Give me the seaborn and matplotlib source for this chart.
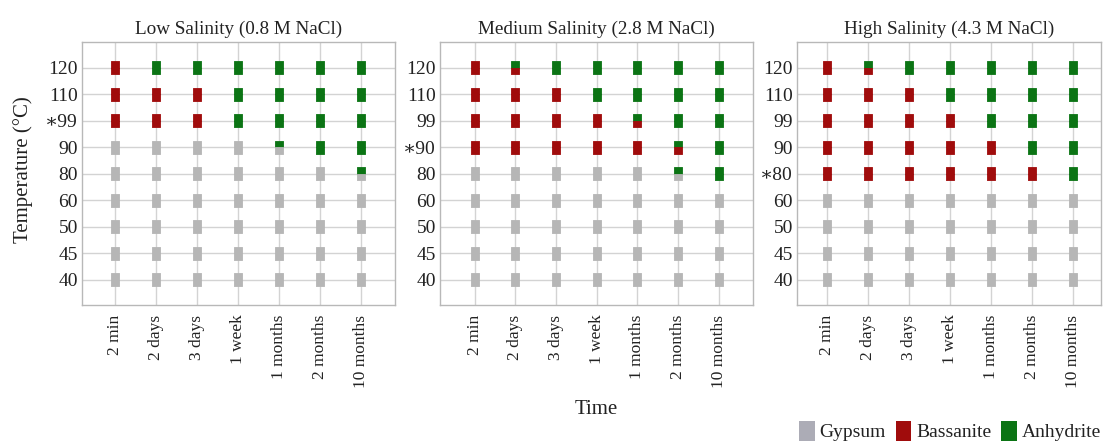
import matplotlib
matplotlib.use("Agg")
import matplotlib.pyplot as plt
import numpy as np
import pandas as pd
import seaborn as sns
from matplotlib.patches import Patch

# ---------------- data ----------------
times = ["2 min", "2 days", "3 days", "1 week", "1 months", "2 months", "10 months"]
temps = ["120", "110", "99", "90", "80", "60", "50", "45", "40"]
titles = ["Low Salinity (0.8 M NaCl)", "Medium Salinity (2.8 M NaCl)", "High Salinity (4.3 M NaCl)"]
starred = ["99", "90", "80"]
phase_names = {"G": "Gypsum", "B": "Bassanite", "A": "Anhydrite"}

# codes per temperature row (120 ... 40) and time column; two letters = top/bottom halves
low_salinity = [
    ["B", "A", "A", "A", "A", "A", "A"],
    ["B", "B", "B", "A", "A", "A", "A"],
    ["B", "B", "B", "A", "A", "A", "A"],
    ["G", "G", "G", "G", "AG", "A", "A"],
    ["G", "G", "G", "G", "G", "G", "AG"],
    ["G", "G", "G", "G", "G", "G", "G"],
    ["G", "G", "G", "G", "G", "G", "G"],
    ["G", "G", "G", "G", "G", "G", "G"],
    ["G", "G", "G", "G", "G", "G", "G"],
]
medium_salinity = [
    ["B", "AB", "A", "A", "A", "A", "A"],
    ["B", "B", "B", "A", "A", "A", "A"],
    ["B", "B", "B", "B", "AB", "A", "A"],
    ["B", "B", "B", "B", "B", "AB", "A"],
    ["G", "G", "G", "G", "G", "AG", "A"],
    ["G", "G", "G", "G", "G", "G", "G"],
    ["G", "G", "G", "G", "G", "G", "G"],
    ["G", "G", "G", "G", "G", "G", "G"],
    ["G", "G", "G", "G", "G", "G", "G"],
]
high_salinity = [
    ["B", "AB", "A", "A", "A", "A", "A"],
    ["B", "B", "B", "A", "A", "A", "A"],
    ["B", "B", "B", "B", "A", "A", "A"],
    ["B", "B", "B", "B", "B", "A", "A"],
    ["B", "B", "B", "B", "B", "B", "A"],
    ["G", "G", "G", "G", "G", "G", "G"],
    ["G", "G", "G", "G", "G", "G", "G"],
    ["G", "G", "G", "G", "G", "G", "G"],
    ["G", "G", "G", "G", "G", "G", "G"],
]
panels = [low_salinity, medium_salinity, high_salinity]

palette = {"Gypsum": "#b6b6b6", "Bassanite": "#a00c0c", "Anhydrite": "#0b7414"}
legend_colors = {"Gypsum": "#acacb6", "Bassanite": "#a00c0c", "Anhydrite": "#0b7414"}

# ---------------- build table ----------------
rows = []
for p, grid in enumerate(panels):
    for yi, temp in enumerate(temps):
        for xi, t in enumerate(times):
            code = grid[yi][xi]
            top, bot = (code[0], code[1]) if len(code) == 2 else (code, code)
            rows.append(dict(panel=p, time=t, temp=temp, xi=xi, yi=yi, half="top", phase=phase_names[top]))
            rows.append(dict(panel=p, time=t, temp=temp, xi=xi, yi=yi, half="bottom", phase=phase_names[bot]))
df = pd.DataFrame(rows)

# ---------------- style ----------------
sns.set_theme(style="white")
plt.rcParams["font.family"] = ["Liberation Serif", "DejaVu Serif"]

fig = plt.figure(figsize=(11.06, 4.46), dpi=100)
W, H = 1106, 446
ax_boxes = [(82, 313), (440, 313), (797, 304)]
xlims = [(-0.80, 6.83), (-0.85, 6.84), (-0.73, 6.68)]
top_px, bot_px = 42, 305

hw = 0.31
top_marker = [(-hw, 0), (hw, 0), (hw, 0.5), (-hw, 0.5), (-hw, 0)]
bot_marker = [(-hw, -0.5), (hw, -0.5), (hw, 0), (-hw, 0), (-hw, -0.5)]

axes = []
for p in range(3):
    left, width = ax_boxes[p]
    ax = fig.add_axes([left / W, 1 - bot_px / H, width / W, (bot_px - top_px) / H])
    axes.append(ax)
    sub = df[df.panel == p]
    for half, mk in (("top", top_marker), ("bottom", bot_marker)):
        sns.scatterplot(data=sub[sub.half == half], x="xi", y="yi", hue="phase",
                        palette=palette, marker=mk, s=88, linewidth=0.6,
                        edgecolor="face", legend=False, ax=ax, zorder=3)
    ax.set_xlim(*xlims[p])
    ax.set_ylim(8.95, -0.98)
    ax.set_xticks(range(len(times)))
    ax.set_xticklabels(times, rotation=90, fontsize=12.5)
    ax.set_yticks(range(len(temps)))
    ylabels = [("\u2217" + t) if t == starred[p] else t for t in temps]
    ax.set_yticklabels(ylabels, fontsize=14)
    ax.tick_params(axis="both", length=0, colors="#222222")
    ax.tick_params(axis="x", pad=7)
    ax.tick_params(axis="y", pad=3)
    ax.grid(True, color="#d3d3d3", linewidth=1.0, zorder=0)
    ax.set_axisbelow(True)
    for sp in ax.spines.values():
        sp.set_color("#b8b8b8")
        sp.set_linewidth(1.0)
    ax.set_xlabel("")
    ax.set_ylabel("")
    ax.set_title(titles[p], fontsize=13.8, pad=6, color="#222222")

axes[0].set_ylabel("Temperature (\u00b0C)", fontsize=15, color="#222222")
axes[0].yaxis.set_label_coords(-0.156, 0.515)

fig.text(596 / W, 1 - 410 / H, "Time", ha="center", va="center", fontsize=15, color="#222222")

handles = [Patch(facecolor=legend_colors[n], edgecolor="none") for n in ["Gypsum", "Bassanite", "Anhydrite"]]
fig.legend(handles, ["Gypsum", "Bassanite", "Anhydrite"], loc="center",
           bbox_to_anchor=(950 / W, 1 - 431 / H), ncol=3, frameon=False,
           fontsize=14, handlelength=0.8, handleheight=1.25, handletextpad=0.25,
           columnspacing=0.5, labelcolor="#222222", borderaxespad=0.1)

fig.savefig("out.png", dpi=100)
